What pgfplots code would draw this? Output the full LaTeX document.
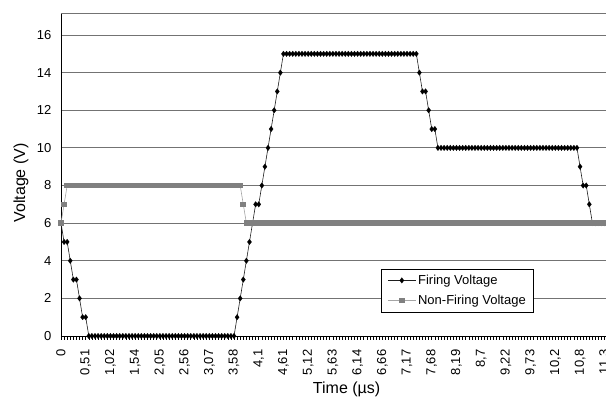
\documentclass[border=0pt]{standalone}
\usepackage{pgfplots}
\pgfplotsset{compat=1.18}
\usepackage{fontspec}
\setmainfont{Liberation Sans}
\definecolor{gridc}{RGB}{115,115,115}
\definecolor{fireline}{RGB}{30,30,30}
\definecolor{nfline}{RGB}{165,165,165}
\definecolor{nfmark}{RGB}{128,128,128}
\begin{document}
\begin{tikzpicture}
\begin{axis}[
  name=ax,
  scale only axis, width=545pt, height=323pt,
  xmin=0, xmax=176.4, ymin=0, ymax=17.17,
  axis x line=bottom, axis y line=left,
  axis line style={-, black, line width=0.8pt},
  clip=false,
  xtick={0,8,...,176},
  xticklabels={0,{0,51},{1,02},{1,54},{2,05},{2,56},{3,07},{3,58},{4,1},{4,61},{5,12},{5,63},{6,14},{6,66},{7,17},{7,68},{8,19},{8,7},{9,22},{9,73},{10,2},{10,8},{11,3}},
  minor x tick num=7,
  tick align=outside,
  major tick length=3.5pt, minor tick length=3.5pt,
  xtick style={black, line width=0.6pt},
  minor tick style={black, line width=0.6pt},
  xticklabel shift=10pt,
  xticklabel style={rotate=90, anchor=east, inner sep=0pt, font=\fontsize{13}{13}\selectfont},
  ytick={0,2,...,16},
  ytick style={draw=none},
  yticklabel style={anchor=east, inner sep=0pt, xshift=-6pt, font=\fontsize{13}{13}\selectfont},
  /pgf/number format/assume math mode=true,
  ymajorgrids,
  grid style={gridc, line width=0.8pt},
  xlabel={Time (\textmu s)},
  xlabel style={at={(axis description cs:0.524,0)}, anchor=base, yshift=-57pt, font=\fontsize{16}{16}\selectfont},
  ylabel={Voltage (V)},
  ylabel style={at={(axis description cs:-0.066,0.474)}, anchor=base, font=\fontsize{16}{16}\selectfont},
  legend style={at={(0.868,0.074)}, anchor=south east, draw=black, fill=white, line width=0.6pt,
    font=\fontsize{13}{15}\selectfont, inner xsep=6pt, inner ysep=4pt, row sep=5pt},
  legend cell align=left,
  legend image code/.code={\draw[mark repeat=2,mark phase=2,#1] plot coordinates {(0pt,0pt) (14pt,0pt) (28pt,0pt)};},
]
\draw[gridc, line width=0.8pt] (rel axis cs:0,1) -- (rel axis cs:1,1);
\addplot[fireline, line width=0.6pt, mark=diamond*, mark size=2.8pt, mark options={black, fill=black, line width=0.2pt}] coordinates {
(0,6)(1,5)(2,5)(3,4)(4,3)(5,3)(6,2)(7,1)(8,1)
(9,0)(10,0)(11,0)(12,0)(13,0)(14,0)(15,0)(16,0)(17,0)(18,0)
(19,0)(20,0)(21,0)(22,0)(23,0)(24,0)(25,0)(26,0)(27,0)(28,0)
(29,0)(30,0)(31,0)(32,0)(33,0)(34,0)(35,0)(36,0)(37,0)(38,0)
(39,0)(40,0)(41,0)(42,0)(43,0)(44,0)(45,0)(46,0)(47,0)(48,0)
(49,0)(50,0)(51,0)(52,0)(53,0)(54,0)(55,0)(56,0)
(57,1)(58,2)(59,3)(60,4)(61,5)(62,6)(63,7)(64,7)(65,8)(66,9)
(67,10)(68,11)(69,12)(70,13)(71,14)
(72,15)(73,15)(74,15)(75,15)(76,15)(77,15)(78,15)(79,15)
(80,15)(81,15)(82,15)(83,15)(84,15)(85,15)(86,15)(87,15)(88,15)(89,15)
(90,15)(91,15)(92,15)(93,15)(94,15)(95,15)(96,15)(97,15)(98,15)(99,15)
(100,15)(101,15)(102,15)(103,15)(104,15)(105,15)(106,15)(107,15)(108,15)(109,15)
(110,15)(111,15)(112,15)(113,15)(114,15)(115,15)
(116,14)(117,13)(118,13)(119,12)(120,11)(121,11)
(122,10)(123,10)(124,10)(125,10)(126,10)(127,10)(128,10)(129,10)
(130,10)(131,10)(132,10)(133,10)(134,10)(135,10)(136,10)(137,10)(138,10)(139,10)
(140,10)(141,10)(142,10)(143,10)(144,10)(145,10)(146,10)(147,10)(148,10)(149,10)
(150,10)(151,10)(152,10)(153,10)(154,10)(155,10)(156,10)(157,10)(158,10)(159,10)
(160,10)(161,10)(162,10)(163,10)(164,10)(165,10)(166,10)(167,10)
(168,9)(169,8)(170,8)(171,7)
(172,6)(173,6)(174,6)(175,6)(176,6)
};
\addlegendentry{Firing Voltage}
\addplot[nfline, line width=0.6pt, mark=square*, mark size=2.3pt, mark options={nfmark, fill=nfmark, line width=0pt}] coordinates {
(0,6)(1,7)
(2,8)(3,8)(4,8)(5,8)(6,8)(7,8)(8,8)(9,8)
(10,8)(11,8)(12,8)(13,8)(14,8)(15,8)(16,8)(17,8)(18,8)(19,8)
(20,8)(21,8)(22,8)(23,8)(24,8)(25,8)(26,8)(27,8)(28,8)(29,8)
(30,8)(31,8)(32,8)(33,8)(34,8)(35,8)(36,8)(37,8)(38,8)(39,8)
(40,8)(41,8)(42,8)(43,8)(44,8)(45,8)(46,8)(47,8)(48,8)(49,8)
(50,8)(51,8)(52,8)(53,8)(54,8)(55,8)(56,8)(57,8)(58,8)
(59,7)
(60,6)(61,6)(62,6)(63,6)(64,6)(65,6)(66,6)(67,6)(68,6)(69,6)
(70,6)(71,6)(72,6)(73,6)(74,6)(75,6)(76,6)(77,6)(78,6)(79,6)
(80,6)(81,6)(82,6)(83,6)(84,6)(85,6)(86,6)(87,6)(88,6)(89,6)
(90,6)(91,6)(92,6)(93,6)(94,6)(95,6)(96,6)(97,6)(98,6)(99,6)
(100,6)(101,6)(102,6)(103,6)(104,6)(105,6)(106,6)(107,6)(108,6)(109,6)
(110,6)(111,6)(112,6)(113,6)(114,6)(115,6)(116,6)(117,6)(118,6)(119,6)
(120,6)(121,6)(122,6)(123,6)(124,6)(125,6)(126,6)(127,6)(128,6)(129,6)
(130,6)(131,6)(132,6)(133,6)(134,6)(135,6)(136,6)(137,6)(138,6)(139,6)
(140,6)(141,6)(142,6)(143,6)(144,6)(145,6)(146,6)(147,6)(148,6)(149,6)
(150,6)(151,6)(152,6)(153,6)(154,6)(155,6)(156,6)(157,6)(158,6)(159,6)
(160,6)(161,6)(162,6)(163,6)(164,6)(165,6)(166,6)(167,6)(168,6)(169,6)
(170,6)(171,6)(172,6)(173,6)(174,6)(175,6)(176,6)
};
\addlegendentry{Non-Firing Voltage}
\end{axis}
\pgfresetboundingbox
\path[use as bounding box] (ax.south west) ++(-61pt,-61pt) rectangle ([shift={(0pt,13pt)}]ax.north east);
\end{tikzpicture}
\end{document}
